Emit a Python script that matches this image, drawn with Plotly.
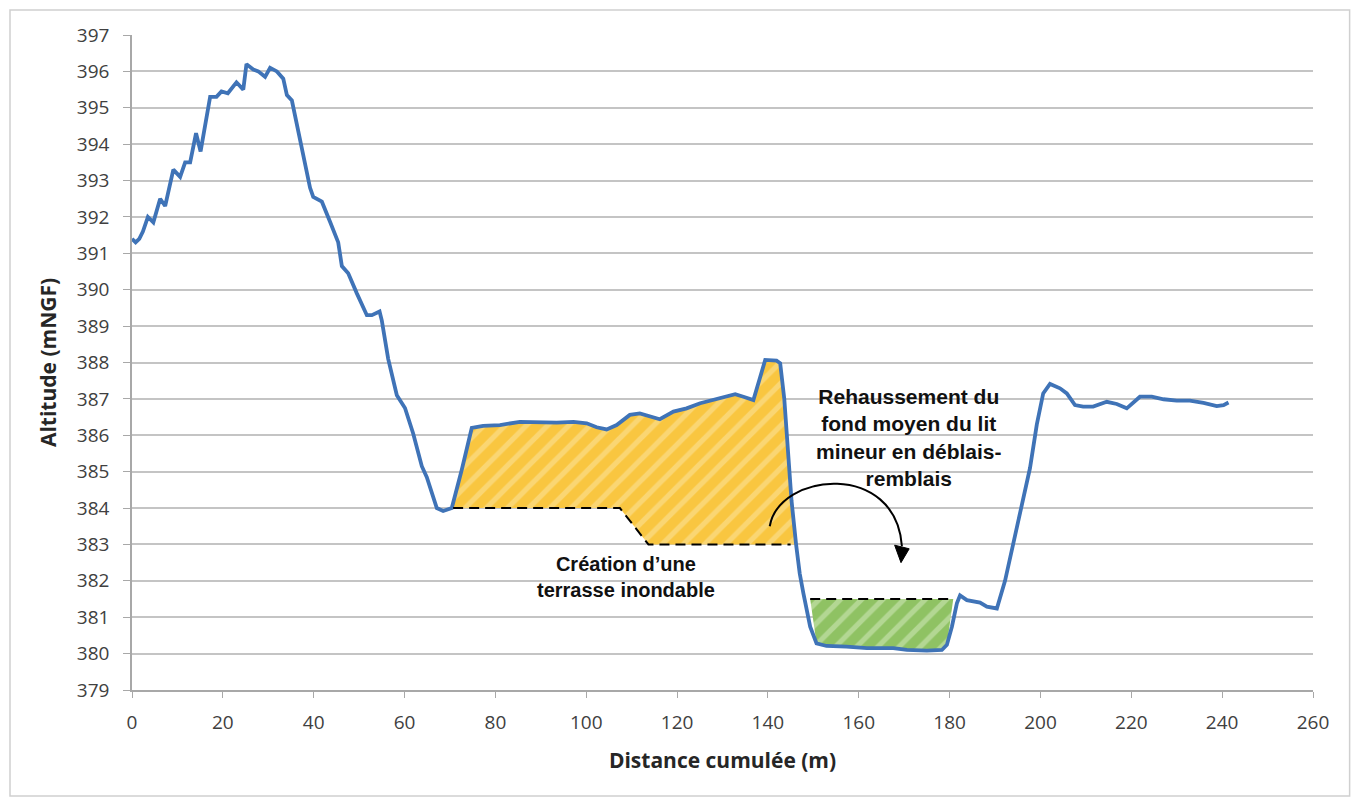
import numpy as np
import plotly.graph_objects as go

# Profile (distance in m, altitude in m NGF)
distance = [0, 0.8, 1.6, 2.4, 3.5, 4.7, 6.2, 7.3, 9.1, 10.6, 11.7, 12.8, 14.1, 15.1, 17.2, 18.6,
            19.7, 21.1, 23.0, 24.5, 25.2, 26.7, 27.8, 29.3, 30.4, 31.9, 33.3, 34.1, 35.2, 37.4,
            39.2, 39.9, 41.8, 43.6, 45.4, 46.2, 47.6, 49.5, 51.7, 52.8, 54.5, 55.0, 56.4, 58.3,
            60.1, 61.9, 63.8, 64.9, 67.1, 68.5, 70.4, 72.6, 74.8, 77.3, 81.0, 85.4, 89.8, 93.5,
            97.2, 100.1, 102.3, 104.5, 106.7, 109.6, 111.8, 114.0, 116.2, 119.2, 122.1, 125.1,
            128.0, 130.9, 132.8, 134.6, 136.8, 138.3, 139.4, 141.9, 142.7, 143.6, 144.3, 145.2,
            146.2, 147.0, 147.8, 149.3, 150.7, 152.9, 157.3, 161.8, 167.6, 170.6, 175.0, 178.3,
            179.4, 180.5, 181.6, 182.3, 183.8, 185.2, 186.7, 188.2, 190.4, 192.2, 194.0, 195.9,
            197.7, 199.2, 200.6, 202.1, 204.3, 205.8, 207.6, 209.4, 211.6, 214.6, 216.8, 219.0,
            221.9, 224.5, 227.1, 230.0, 232.9, 235.9, 238.8, 240.3, 241.4]
altitude = [391.4, 391.3, 391.4, 391.6, 392.0, 391.85, 392.5, 392.3, 393.3, 393.1, 393.5, 393.5,
            394.3, 393.8, 395.3, 395.3, 395.45, 395.4, 395.7, 395.5, 396.2, 396.05, 396.0, 395.85,
            396.1, 396.0, 395.8, 395.35, 395.2, 393.85, 392.8, 392.55, 392.42, 391.87, 391.3,
            390.65, 390.45, 389.9, 389.3, 389.3, 389.4, 389.15, 388.1, 387.1, 386.75, 386.05,
            385.15, 384.85, 384.0, 383.92, 384.0, 385.05, 386.2, 386.26, 386.28, 386.37, 386.35,
            386.35, 386.37, 386.33, 386.22, 386.16, 386.28, 386.56, 386.6, 386.51, 386.44, 386.65,
            386.74, 386.88, 386.97, 387.08, 387.13, 387.06, 386.97, 387.6, 388.07, 388.05, 387.98,
            387.0, 385.6, 384.2, 383.0, 382.2, 381.66, 380.74, 380.28, 380.21, 380.19, 380.15,
            380.15, 380.1, 380.08, 380.1, 380.24, 380.74, 381.38, 381.6, 381.47, 381.43, 381.4,
            381.29, 381.24, 382.0, 383.0, 384.0, 385.1, 386.3, 387.15, 387.41, 387.29, 387.15,
            386.83, 386.79, 386.79, 386.92, 386.86, 386.74, 387.06, 387.06, 386.99, 386.95,
            386.95, 386.89, 386.8, 386.83, 386.9]

# Excavation (terrasse) bottom profile
terrace_x = [70.7, 107.4, 113.7, 145.0]
terrace_y = [384.0, 384.0, 383.0, 383.0]
terrace_right_x = 146.2

# Fill (raised bed) level
fill_x = [149.3, 180.8]
fill_y = [381.5, 381.5]
fill_bottom_range = [150.5, 179.6]

x_ticks = list(range(0, 261, 20))
y_ticks = list(range(379, 398))

# Arrow & annotation anchors (data coords)
arrow_path = "M 140.4,383.5 C 142.5,385.0 168.2,385.3 169.5,382.95"
arrow_head = "M 167.9,382.98 L 171.1,382.88 L 169.3,382.5 Z"

dist = np.array(distance)
alt = np.array(altitude)

fig = go.Figure()

# Yellow hatched area (déblais)
sel = (dist > terrace_x[0]) & (dist < terrace_right_x)
top_x = [terrace_x[0]] + list(dist[sel]) + [terrace_right_x]
top_y = [float(np.interp(terrace_x[0], dist, alt))] + list(alt[sel]) + [terrace_y[-1]]
poly_x = top_x + terrace_x[::-1]
poly_y = top_y + terrace_y[::-1]
fig.add_trace(go.Scatter(
    x=poly_x, y=poly_y, mode="lines", fill="toself", line=dict(width=0),
    fillcolor="#F9C640",
    fillpattern=dict(shape="/", bgcolor="#F9C640", fgcolor="#FCE6A6", size=15, solidity=0.35),
    hoverinfo="skip", showlegend=False))

# Green hatched area (remblais)
selg = (dist > fill_bottom_range[0]) & (dist < fill_bottom_range[1])
g_x = [fill_x[0]] + list(dist[selg]) + [fill_x[1]]
g_y = [fill_y[0]] + list(alt[selg]) + [fill_y[1]]
fig.add_trace(go.Scatter(
    x=g_x, y=g_y, mode="lines", fill="toself", line=dict(width=0),
    fillcolor="#8FC263",
    fillpattern=dict(shape="/", bgcolor="#8FC263", fgcolor="#D8EBC4", size=15, solidity=0.35),
    hoverinfo="skip", showlegend=False))

# Profile line
fig.add_trace(go.Scatter(
    x=distance, y=altitude, mode="lines",
    line=dict(color="#3F73B7", width=3.8), showlegend=False))

# Dashed lines
fig.add_trace(go.Scatter(
    x=terrace_x, y=terrace_y, mode="lines",
    line=dict(color="black", width=2, dash="10px,6px"), showlegend=False))
fig.add_trace(go.Scatter(
    x=fill_x, y=fill_y, mode="lines",
    line=dict(color="black", width=2, dash="10px,6px"), showlegend=False))

# Curved arrow
fig.add_shape(type="path", path=arrow_path, xref="x", yref="y",
              line=dict(color="black", width=2))
fig.add_shape(type="path", path=arrow_head, xref="x", yref="y",
              line=dict(color="black", width=1), fillcolor="black")

# Outer border
fig.add_shape(type="rect", xref="paper", yref="paper",
              x0=-0.1033, x1=1.031, y0=-0.1618, y1=1.0382,
              line=dict(color="#D0D0D0", width=1.5), layer="below")

fig.add_annotation(x=171.1, y=385.95, xref="x", yref="y",
                   text="<b>Rehaussement du<br>fond moyen du lit<br>mineur en déblais-<br>remblais</b>",
                   showarrow=False, align="center",
                   font=dict(family="Liberation Sans, Arial", size=21, color="#111111"))
fig.add_annotation(x=108.8, y=382.1, xref="x", yref="y",
                   text="<b>Création d’une<br>terrasse inondable</b>",
                   showarrow=False, align="center",
                   font=dict(family="Liberation Sans, Arial", size=20, color="#111111"))

fig.update_layout(
    width=1360, height=801,
    margin=dict(l=124, r=55, t=27, b=119),
    paper_bgcolor="white", plot_bgcolor="white",
    font=dict(family="Open Sans", color="#404040"),
)
fig.update_xaxes(
    range=[0, 260], tickvals=x_ticks, showgrid=False, zeroline=False,
    showline=True, linecolor="#A8A8A8", linewidth=1.5,
    ticks="outside", ticklen=6, tickcolor="#A8A8A8", ticklabelstandoff=8,
    tickfont=dict(family="Open Sans", size=19, color="#404040"),
    title=dict(text="<b>Distance cumulée (m)</b>", standoff=20,
               font=dict(family="Open Sans", size=21, color="#262626")))
fig.update_yaxes(
    range=[379, 397], tickvals=y_ticks, showgrid=True, gridcolor="#C4C4C4", gridwidth=1.5,
    zeroline=False, showline=True, linecolor="#A8A8A8", linewidth=1.5,
    ticks="outside", ticklen=7, tickcolor="#A8A8A8", ticklabelstandoff=10,
    tickfont=dict(family="Open Sans", size=19, color="#404040"),
    title=dict(text="<b>Altitude (mNGF)</b>", standoff=15,
               font=dict(family="Open Sans", size=21, color="#262626")))

fig.write_html("out.html")
